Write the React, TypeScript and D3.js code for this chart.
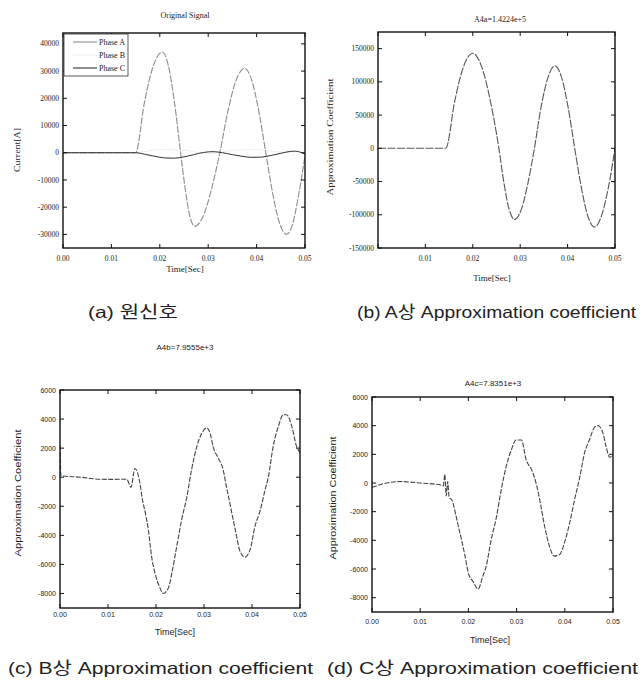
import React from "react";
import * as d3 from "d3";

type Pt = [number, number];

// ---------- data ----------
const timeTicks = [0, 0.01, 0.02, 0.03, 0.04, 0.05];
const origYTicks = [-30000, -20000, -10000, 0, 10000, 20000, 30000, 40000];
const aYTicks = [-150000, -100000, -50000, 0, 50000, 100000, 150000];
const bcYTicks = [-8000, -6000, -4000, -2000, 0, 2000, 4000, 6000];

const phaseA: Pt[] = [
  [0, 0], [0.005, 0], [0.01, 0], [0.015, 0],
  [0.01683, 18500], [0.01867, 32000], [0.0205, 37000],
  [0.02177, 32000], [0.02303, 18500], [0.0243, 0],
  [0.02527, -13500], [0.02623, -23400], [0.0272, -27000],
  [0.02893, -23400], [0.03067, -13500], [0.0324, 0],
  [0.0341, 15500], [0.0358, 26800], [0.0375, 31000],
  [0.03897, 26800], [0.04043, 15500], [0.0419, 0],
  [0.04333, -15000], [0.04477, -26000], [0.0462, -30000],
  [0.04747, -26000], [0.04873, -15000], [0.05, -1000],
];
const phaseB: Pt[] = [
  [0, 0], [0.015, 0], [0.02, 1200], [0.025, 900], [0.03, -300],
  [0.035, 800], [0.04, 1200], [0.045, 200], [0.05, 600],
];
const phaseC: Pt[] = [
  [0, 0], [0.015, 0], [0.017, -600], [0.019, -1300], [0.021, -1900],
  [0.023, -2000], [0.025, -1500], [0.027, -700], [0.029, 100], [0.031, 400],
  [0.033, 0], [0.035, -700], [0.037, -1300], [0.039, -1700], [0.041, -1600],
  [0.043, -1000], [0.045, -200], [0.047, 500], [0.048, 600], [0.049, 200],
  [0.05, -500],
];

const coefA: Pt[] = [
  [0, 0], [0.007, 0], [0.0143, 0],
  [0.0162, 71500], [0.0181, 124000], [0.02, 143000],
  [0.0218, 124000], [0.0237, 71500], [0.0255, 0],
  [0.0266, -53500], [0.0277, -92700], [0.0288, -107000],
  [0.0302, -92700], [0.0316, -53500], [0.033, 0],
  [0.0344, 62000], [0.0359, 107400], [0.0373, 124000],
  [0.0387, 107400], [0.0401, 62000], [0.0415, 0],
  [0.0429, -59200], [0.0443, -102600], [0.0457, -118500],
  [0.0471, -102600], [0.0486, -59200], [0.05, 0],
];

const coefB: Pt[] = [
  [0, 2200], [0.0002, 100], [0.0042, 0], [0.0083, -140], [0.0104, -150],
  [0.0139, -140], [0.0148, -700], [0.0156, 600], [0.0167, -500],
  [0.0171, -1400], [0.0178, -2500], [0.0184, -3600], [0.0191, -5500],
  [0.0198, -6600], [0.0208, -7600], [0.0215, -8000], [0.0226, -7600],
  [0.0233, -6600], [0.0243, -4800], [0.0253, -3000], [0.0264, -1400],
  [0.0274, 500], [0.0285, 2100], [0.0295, 3000], [0.0306, 3400],
  [0.0313, 3000], [0.0319, 2100], [0.033, 1300], [0.034, 500],
  [0.0347, -700], [0.0354, -1800], [0.036, -2800], [0.0367, -3900],
  [0.0374, -5000], [0.0385, -5500], [0.0396, -5000], [0.0406, -3400],
  [0.0417, -2300], [0.0427, -900], [0.0434, 0], [0.0444, 2100],
  [0.0455, 3500], [0.0465, 4300], [0.0472, 4300], [0.0483, 3500],
  [0.0493, 2100], [0.05, 1700],
];

const coefC: Pt[] = [
  [0, -300], [0.003, 0], [0.0058, 100], [0.01, 0], [0.0145, -150],
  [0.0148, -200], [0.0151, 600], [0.0154, -900], [0.0157, 100],
  [0.016, -1000], [0.0166, -1200], [0.0173, -2100], [0.0179, -3000],
  [0.0186, -4000], [0.0193, -5100], [0.02, -6300], [0.021, -6900],
  [0.022, -7400], [0.023, -6500], [0.0237, -5800], [0.0247, -4000],
  [0.0258, -2400], [0.0268, -500], [0.0278, 1100], [0.0289, 2300],
  [0.0299, 3000], [0.031, 3000], [0.032, 1600], [0.033, 1000],
  [0.0337, 400], [0.0347, -1000], [0.0358, -3000], [0.0368, -4400],
  [0.0378, -5100], [0.0389, -5000], [0.0399, -4200], [0.041, -2800],
  [0.042, -1200], [0.0431, 400], [0.0441, 2100], [0.0451, 3000],
  [0.0462, 3900], [0.0469, 4000], [0.0479, 3500], [0.0486, 2500],
  [0.0493, 1800], [0.05, 1900],
];

const legendNames = ["Phase A", "Phase B", "Phase C"];

// ---------- components ----------
type Series = { data: Pt[]; color: string; width: number; dash?: string };
type Frame = { l: number; r: number; t: number; b: number };

const SERIF = "'Liberation Serif', 'DejaVu Serif', serif";
const SANS = "'Liberation Sans', Arial, sans-serif";
const CAPTION = "'Liberation Sans', 'Noto Sans CJK KR', sans-serif";

function Panel(props: {
  frame: Frame;
  yDomain: [number, number];
  yTicks: number[];
  xTickLabels: (t: number) => string;
  series: Series[];
  title: string;
  titleX: number;
  titleY: number;
  xLabelX: number;
  xLabelY: number;
  yLabel: string;
  yLabelX: number;
  yLabelY: number;
  yLabelLen: number;
  xTickY: number;
  font: string;
  tickFont: number;
  children?: React.ReactNode;
}) {
  const f = props.frame;
  const x = d3.scaleLinear().domain([0, 0.05]).range([f.l, f.r]);
  const y = d3.scaleLinear().domain(props.yDomain).range([f.b, f.t]);
  const line = d3
    .line<Pt>()
    .x((d) => x(d[0]))
    .y((d) => y(d[1]))
    .curve(d3.curveMonotoneX);
  const tl = 4;
  return (
    <g>
      <defs>
        <clipPath id={"clip" + f.l + "_" + f.t}>
          <rect x={f.l} y={f.t} width={f.r - f.l} height={f.b - f.t} />
        </clipPath>
      </defs>
      <g clipPath={`url(#clip${f.l}_${f.t})`}>
        {props.series.map((s, i) => (
          <path
            key={i}
            d={line(s.data) || ""}
            fill="none"
            stroke={s.color}
            strokeWidth={s.width}
            strokeDasharray={s.dash}
          />
        ))}
      </g>
      <rect
        x={f.l}
        y={f.t}
        width={f.r - f.l}
        height={f.b - f.t}
        fill="none"
        stroke="#111"
        strokeWidth={1.4}
      />
      {timeTicks.map((t) => (
        <g key={"xt" + t}>
          <line x1={x(t)} x2={x(t)} y1={f.b} y2={f.b - tl} stroke="#111" />
          <line x1={x(t)} x2={x(t)} y1={f.t} y2={f.t + tl} stroke="#111" />
          <text
            x={x(t)}
            y={props.xTickY}
            fontSize={props.tickFont}
            fontFamily={props.font}
            textAnchor="middle"
            fill="#222"
          >
            {props.xTickLabels(t)}
          </text>
        </g>
      ))}
      {props.yTicks.map((v) => (
        <g key={"yt" + v}>
          <line x1={f.l} x2={f.l + tl} y1={y(v)} y2={y(v)} stroke="#111" />
          <line x1={f.r} x2={f.r - tl} y1={y(v)} y2={y(v)} stroke="#111" />
          <text
            x={f.l - 4}
            y={y(v) + 2.6}
            fontSize={props.tickFont}
            fontFamily={props.font}
            textAnchor="end"
            fill="#222"
          >
            {String(v)}
          </text>
        </g>
      ))}
      <text
        x={props.titleX}
        y={props.titleY}
        fontSize={8}
        fontFamily={props.font}
        textAnchor="middle"
        fill="#222"
      >
        {props.title}
      </text>
      <text
        x={props.xLabelX}
        y={props.xLabelY}
        fontSize={9}
        fontFamily={props.font}
        textAnchor="middle"
        fill="#222"
      >
        Time[Sec]
      </text>
      <text
        transform={`translate(${props.yLabelX},${props.yLabelY}) rotate(-90)`}
        fontSize={9}
        fontFamily={props.font}
        textAnchor="middle"
        fill="#222"
        textLength={props.yLabelLen}
        lengthAdjust="spacingAndGlyphs"
      >
        {props.yLabel}
      </text>
      {props.children}
    </g>
  );
}

export default function App() {
  const fmt2 = (t: number) => t.toFixed(2);
  const seriesA: Series[] = [
    { data: phaseB, color: "#eeeeee", width: 1 },
    { data: phaseA, color: "#8c8c8c", width: 1.1, dash: "7,1.5" },
    { data: phaseC, color: "#333", width: 1 },
  ];
  const legendColors = ["#8c8c8c", "#eeeeee", "#333"];
  return (
    <svg
      width={643}
      height={688}
      style={{ position: "absolute", left: 0, top: 0, background: "#fff" }}
    >
      <rect width={643} height={688} fill="#fff" />
      {/* (a) */}
      <Panel
        frame={{ l: 63, r: 305, t: 33, b: 248 }}
        yDomain={[-35000, 44000]}
        yTicks={origYTicks}
        xTickLabels={fmt2}
        series={seriesA}
        title="Original Signal"
        titleX={185}
        titleY={18}
        xLabelX={185}
        xLabelY={272}
        yLabel="Current[A]"
        yLabelX={20}
        yLabelY={150}
        yLabelLen={44}
        xTickY={261}
        font={SERIF}
        tickFont={7.5}
      >
        <rect x={64} y={34} width={64} height={42} fill="#fff" stroke="#333" strokeWidth={0.8} />
        {legendNames.map((n, i) => (
          <g key={n}>
            <line
              x1={73}
              x2={97}
              y1={42 + i * 13}
              y2={42 + i * 13}
              stroke={legendColors[i]}
              strokeWidth={1.1}
            />
            <text x={99} y={45 + i * 13} fontSize={8} fontFamily={SERIF} fill="#222">
              {n}
            </text>
          </g>
        ))}
      </Panel>
      {/* (b) */}
      <Panel
        frame={{ l: 378, r: 615, t: 32, b: 248 }}
        yDomain={[-150000, 175000]}
        yTicks={aYTicks}
        xTickLabels={(t) => (t === 0 ? "" : fmt2(t))}
        series={[{ data: coefA, color: "#555", width: 1.1, dash: "8,1.5" }]}
        title="A4a=1.4224e+5"
        titleX={500}
        titleY={22}
        xLabelX={492}
        xLabelY={281}
        yLabel="Approximation Coefficient"
        yLabelX={333}
        yLabelY={137}
        yLabelLen={117}
        xTickY={261}
        font={SERIF}
        tickFont={7.5}
      />
      {/* (c) */}
      <Panel
        frame={{ l: 60, r: 300, t: 390, b: 608 }}
        yDomain={[-9000, 6000]}
        yTicks={bcYTicks}
        xTickLabels={fmt2}
        series={[{ data: coefB, color: "#444", width: 1.1, dash: "5,1.5" }]}
        title="A4b=7.9555e+3"
        titleX={185}
        titleY={350}
        xLabelX={175}
        xLabelY={635}
        yLabel="Approximation Coefficient"
        yLabelX={21}
        yLabelY={493}
        yLabelLen={127}
        xTickY={617}
        font={SANS}
        tickFont={7}
      />
      {/* (d) */}
      <Panel
        frame={{ l: 372, r: 613, t: 397, b: 612 }}
        yDomain={[-9000, 6000]}
        yTicks={bcYTicks}
        xTickLabels={fmt2}
        series={[{ data: coefC, color: "#444", width: 1.1, dash: "5,1.5" }]}
        title="A4c=7.8351e+3"
        titleX={493}
        titleY={386}
        xLabelX={490}
        xLabelY={643}
        yLabel="Approximation Coefficient"
        yLabelX={336}
        yLabelY={498}
        yLabelLen={123}
        xTickY={624}
        font={SANS}
        tickFont={7}
      />
      {/* captions */}
      <text x={88} y={318} fontSize={16.5} fontFamily={CAPTION} fill="#222" textLength={90} lengthAdjust="spacingAndGlyphs">
        (a) 원신호
      </text>
      <text x={357} y={318} fontSize={16.5} fontFamily={CAPTION} fill="#222" textLength={279} lengthAdjust="spacingAndGlyphs">
        (b) A상 Approximation coefficient
      </text>
      <text x={8} y={674} fontSize={16.5} fontFamily={CAPTION} fill="#222" textLength={305} lengthAdjust="spacingAndGlyphs">
        (c) B상 Approximation coefficient
      </text>
      <text x={327} y={674} fontSize={16.5} fontFamily={CAPTION} fill="#222" textLength={311} lengthAdjust="spacingAndGlyphs">
        (d) C상 Approximation coefficient
      </text>
    </svg>
  );
}
